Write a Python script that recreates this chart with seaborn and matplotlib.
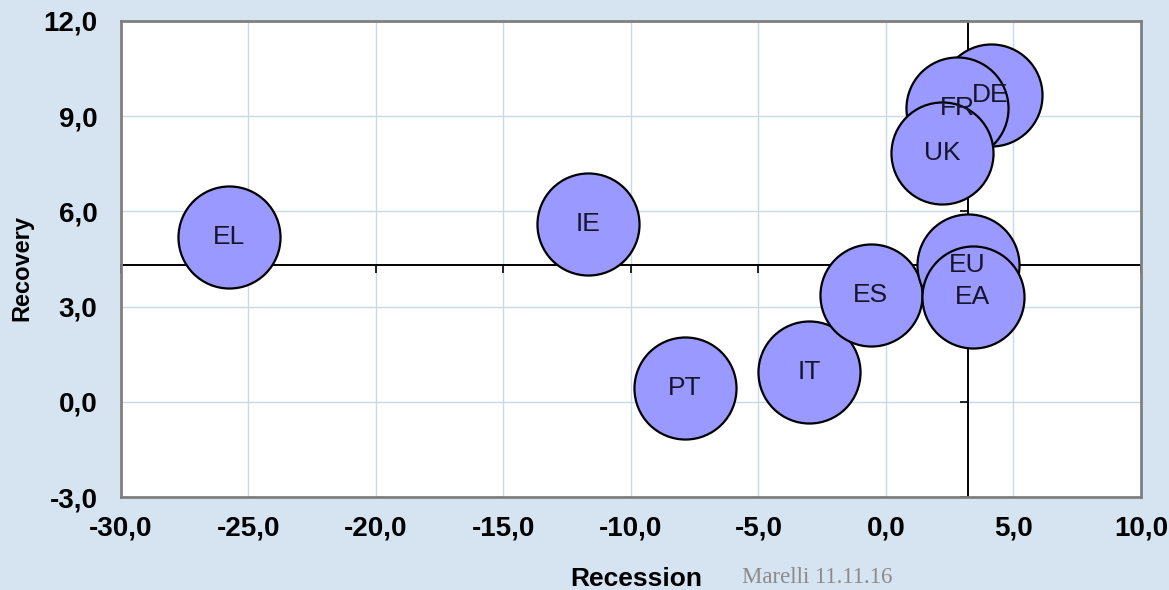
import matplotlib
matplotlib.use("Agg")
import matplotlib.pyplot as plt
import seaborn as sns
import pandas as pd

# Country codes with their recession depth and recovery (%)
countries = ["EL", "IE", "PT", "IT", "ES", "DE", "FR", "UK", "EU", "EA"]
recession = [-25.75, -11.7, -7.9, -3.0, -0.6, 4.1, 2.8, 2.2, 3.2, 3.4]
recovery = [5.2, 5.6, 0.45, 0.95, 3.35, 9.65, 9.25, 7.85, 4.3, 3.3]

xticks = [-30, -25, -20, -15, -10, -5, 0, 5, 10]
xtick_labels = ["-30,0", "-25,0", "-20,0", "-15,0", "-10,0", "-5,0", "0,0", "5,0", "10,0"]
yticks = [-3, 0, 3, 6, 9, 12]
ytick_labels = ["-3,0", "0,0", "3,0", "6,0", "9,0", "12,0"]

# the inner axes cross at the EU aggregate
cross_x = recession[countries.index("EU")]
cross_y = recovery[countries.index("EU")]

df = pd.DataFrame({"Country": countries, "Recession": recession, "Recovery": recovery})

sns.set_theme(style="white")
plt.rcParams["font.family"] = ["Liberation Sans", "DejaVu Sans"]

BG = "#d6e4f2"
fig = plt.figure(figsize=(11.69, 5.90), dpi=100, facecolor=BG)
rect = [0.1035, 0.1576, 0.8725, 0.807]

# lower layer: white field, grid and the crossing axis lines
base = fig.add_axes(rect, zorder=0)
base.set_facecolor("white")
base.set_xlim(-30, 10)
base.set_ylim(-3, 12)
base.set_xticks(xticks)
base.set_yticks(yticks)
base.grid(True, color="#c8d9ea", linewidth=1)
for side in ("top", "right"):
    base.spines[side].set_visible(False)
base.spines["left"].set_position(("data", cross_x))
base.spines["bottom"].set_position(("data", cross_y))
for side in ("left", "bottom"):
    base.spines[side].set_color("black")
    base.spines[side].set_linewidth(1.4)
base.tick_params(direction="out", length=6, width=1.2, color="black",
                 left=True, bottom=True, labelleft=False, labelbottom=False)

# upper layer: bubbles, labels, frame and tick labels
ax = fig.add_axes(rect, zorder=1)
ax.patch.set_alpha(0)
ax.set_xlim(-30, 10)
ax.set_ylim(-3, 12)
sns.scatterplot(data=df, x="Recession", y="Recovery", s=5400, color="#9999ff",
                edgecolor="black", linewidth=1.6, alpha=1, legend=False, ax=ax, zorder=3)
for name, xv, yv in zip(countries, recession, recovery):
    ax.text(xv, yv, name, ha="center", va="center", fontsize=19,
            color="#15152e", zorder=5)

ax.set_xticks(xticks)
ax.set_xticklabels(xtick_labels, fontsize=20, fontweight="bold", color="black")
ax.set_yticks(yticks)
ax.set_yticklabels(ytick_labels, fontsize=20, fontweight="bold", color="black")
ax.tick_params(axis="x", length=0, pad=13)
ax.tick_params(axis="y", length=0, pad=17)
for sp in ax.spines.values():
    sp.set_visible(True)
    sp.set_color("#7f7f7f")
    sp.set_linewidth(2)

ax.set_xlabel("Recession", fontsize=19, fontweight="bold", color="black")
ax.xaxis.label.set_va("center")
ax.xaxis.set_label_coords(0.505, -0.172)
ax.set_ylabel("Recovery", fontsize=17, fontweight="bold", color="black")
ax.yaxis.label.set_va("center")
ax.yaxis.set_label_coords(-0.097, 0.481)

fig.text(742 / 1169, 0.012, "Marelli 11.11.16", family="Liberation Serif",
         fontsize=16.5, color="#8a8a8a", va="baseline", ha="left")

fig.savefig("out.png", dpi=100, facecolor=BG)
